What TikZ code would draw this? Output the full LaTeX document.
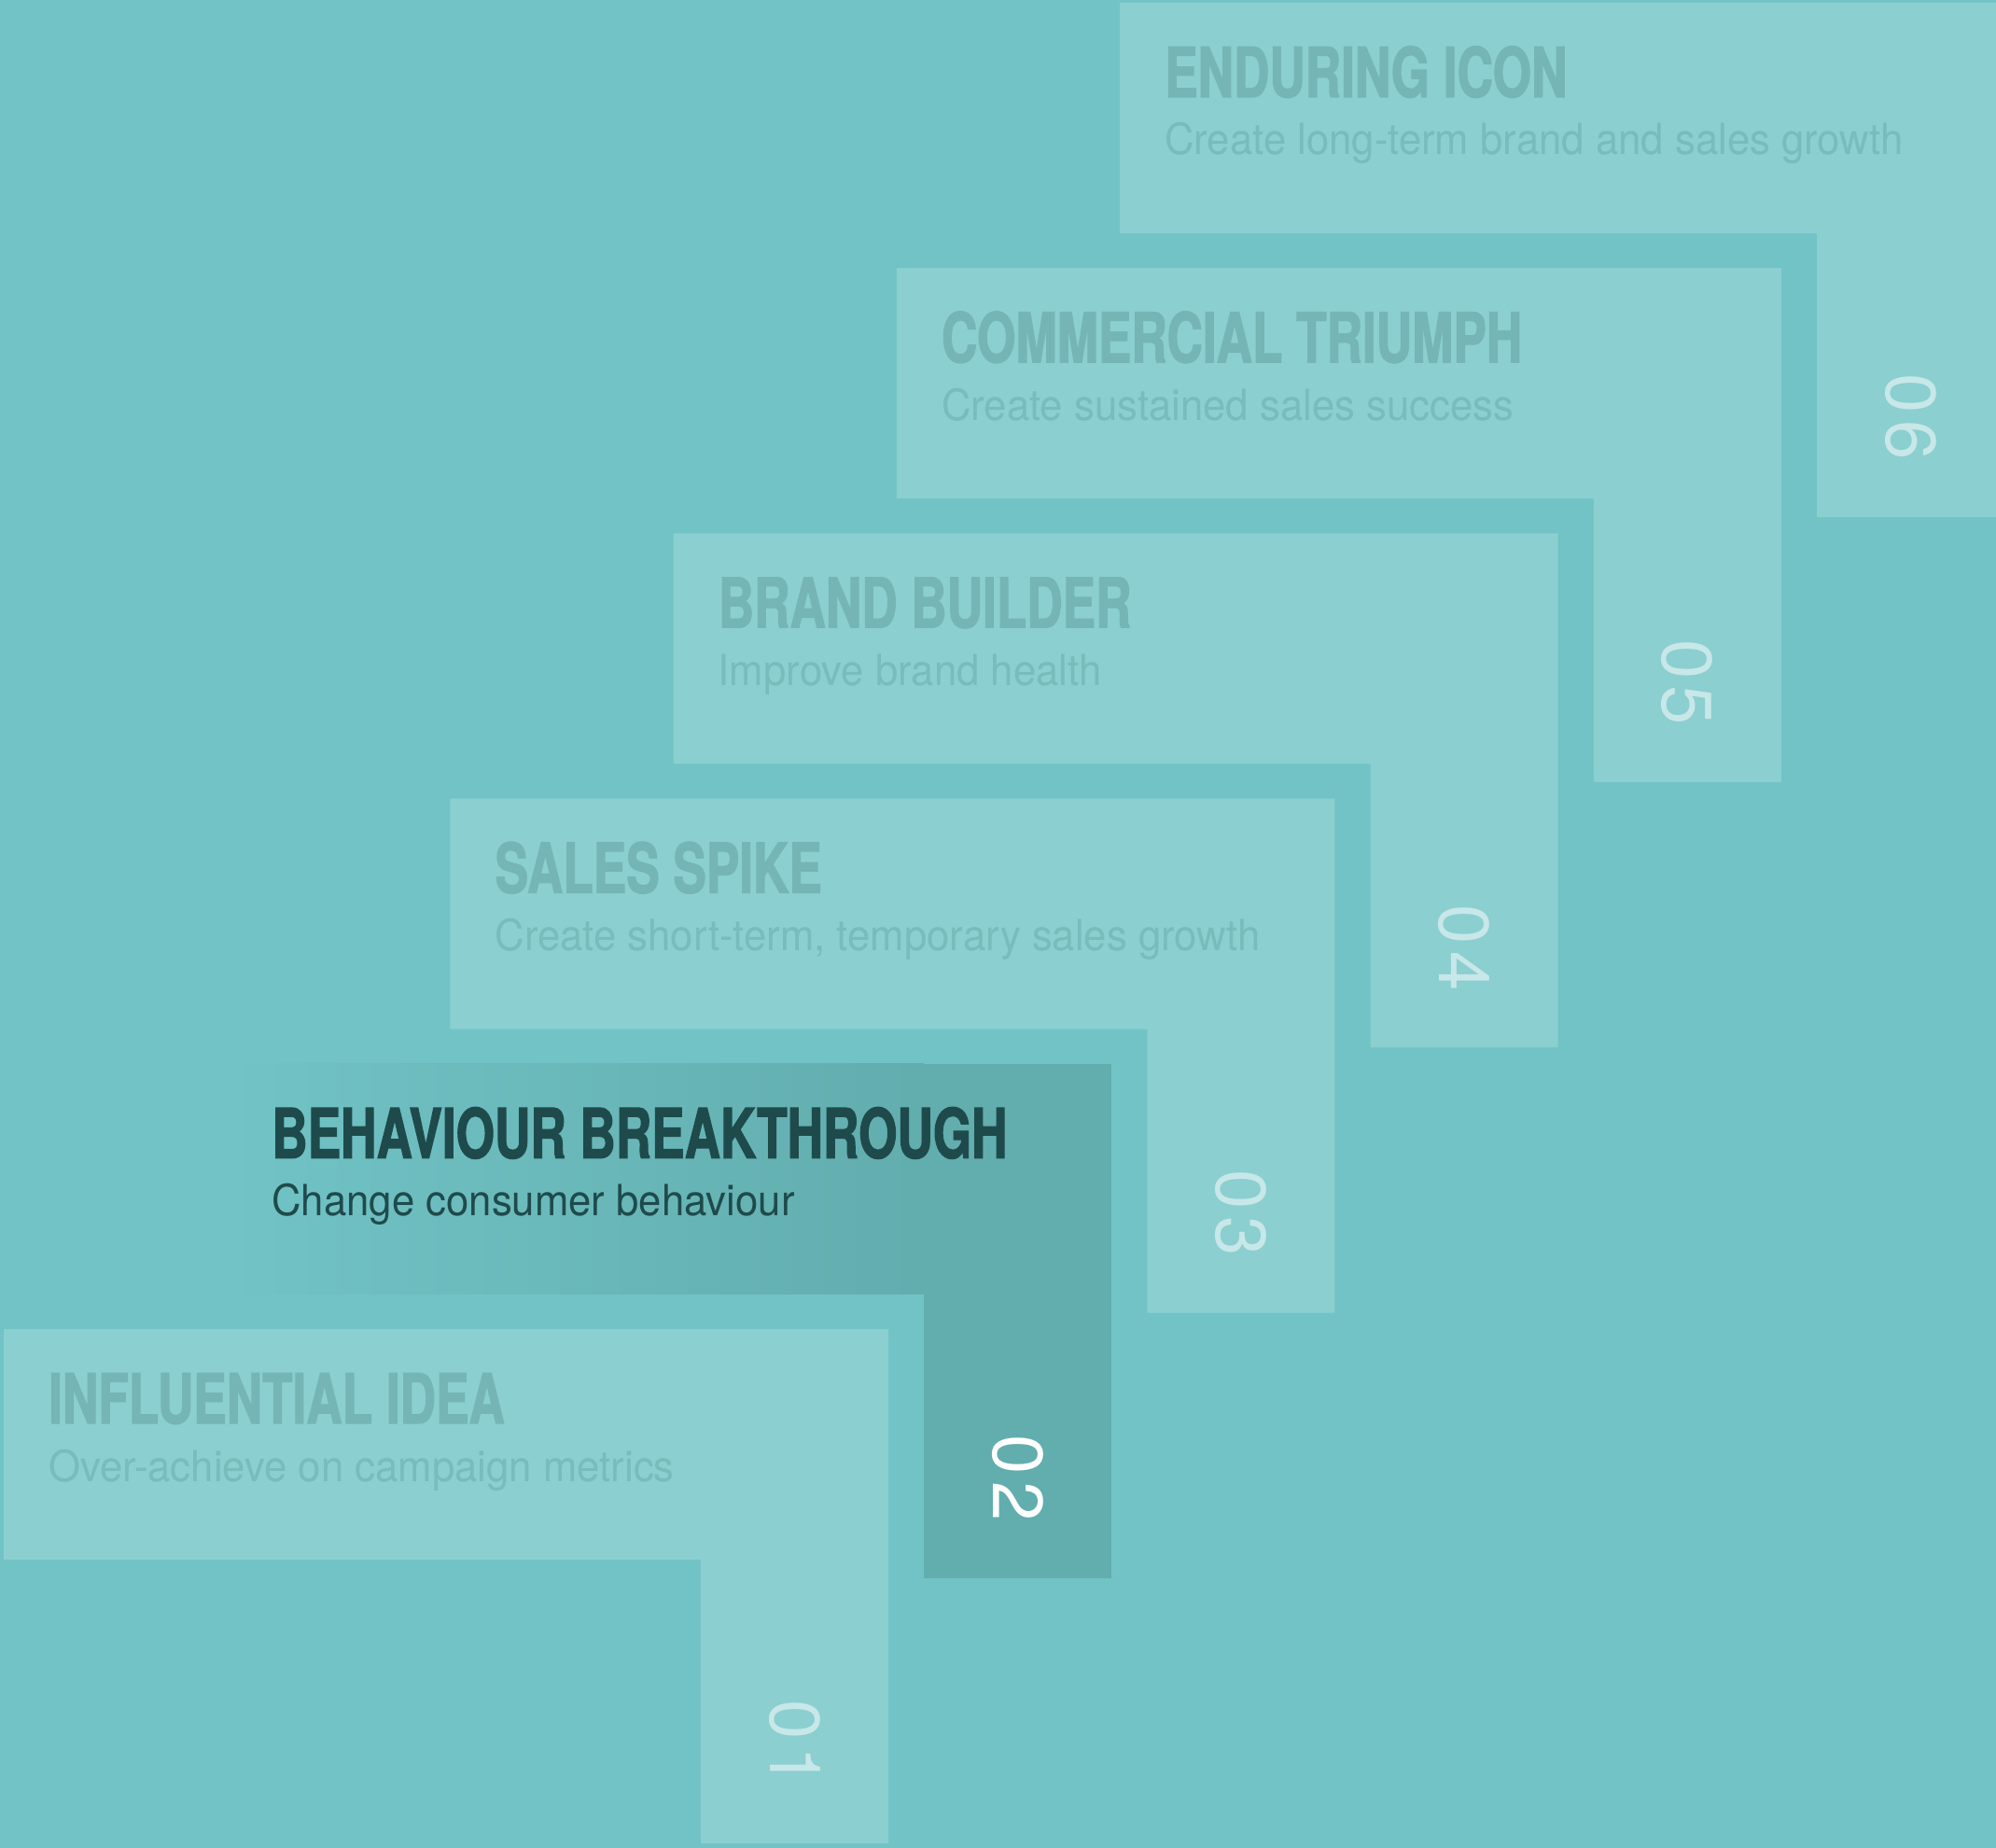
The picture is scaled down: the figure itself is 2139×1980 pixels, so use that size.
\documentclass[tikz,border=0pt]{standalone}
\usepackage{fontspec}
\setmainfont{TeX Gyre Heros}
\newfontfamily\titlefont{TeX Gyre Heros}[FakeStretch=0.72,BoldFeatures={FakeBold=1.6}]
\newfontfamily\subfont{TeX Gyre Heros}[FakeStretch=0.95]
\newfontfamily\numfont{TeX Gyre Heros}[LetterSpace=10]
\usepackage{tikz}
\usetikzlibrary{shadings}

\definecolor{bgteal}{HTML}{71C3C6}
\definecolor{stepfill}{HTML}{8BCFD0}
\definecolor{fadetitle}{HTML}{75B5B6}
\definecolor{fadesub}{HTML}{7ABBBC}
\definecolor{fadenum}{HTML}{C8E7E8}
\definecolor{darkfill}{HTML}{62ADAE}
\definecolor{darktext}{HTML}{1F4A4C}

\begin{document}
\begin{tikzpicture}[x=1pt,y=-1pt,
	steptitle/.style={anchor=base west,inner sep=0pt,font=\titlefont\bfseries\fontsize{73.8}{80}\selectfont},
	stepsub/.style={anchor=base west,inner sep=0pt,font=\subfont\fontsize{46}{50}\selectfont},
	stepnum/.style={inner sep=0pt,rotate=-90,font=\numfont\fontsize{76}{80}\selectfont}]
		\fill[bgteal] (0,0) rectangle (2139,1980);
		\clip (0,0) rectangle (2139,1980);
		%
		\foreach \n/\ttl/\sub/\tc/\nc in {
			1/INFLUENTIAL IDEA/Over-achieve on campaign metrics/fadetitle/fadenum,
			2/BEHAVIOUR BREAKTHROUGH/Change consumer behaviour/darktext/white,
			3/SALES SPIKE/{Create short-term, temporary sales growth}/fadetitle/fadenum,
			4/BRAND BUILDER/Improve brand health/fadetitle/fadenum,
			5/COMMERCIAL TRIUMPH/Create sustained sales success/fadetitle/fadenum,
			6/ENDURING ICON/Create long-term brand and sales growth/fadetitle/fadenum}{
			\pgfmathsetmacro\sx{4+239.2*(\n-1)}
			\pgfmathsetmacro\sy{1424-284.2*(\n-1)}
			\ifnum\n=2
				\fill[left color=bgteal,right color=darkfill] (\sx,\sy) rectangle (\sx+747,\sy+247);
				\fill[darkfill] (\sx+747,\sy) rectangle (\sx+948,\sy+551);
				\node[stepsub,text=darktext] (sub\n) at (\sx+48,\sy+163) {\sub};
			\else
				\fill[stepfill] (\sx,\sy) -- ++(948,0) -- ++(0,551) -- ++(-201,0)
					-- ++(0,-304) -- (\sx,\sy+247) -- cycle;
				\node[stepsub,text=fadesub] (sub\n) at (\sx+48,\sy+163) {\sub};
			\fi
			\node[steptitle,text=\tc] (title\n) at (\sx+48,\sy+101) {\ttl};
			\node[stepnum,text=\nc] (num\n) at (\sx+847.5,\sy+444) {0\n};
		}
		\end{tikzpicture}
\end{document}
